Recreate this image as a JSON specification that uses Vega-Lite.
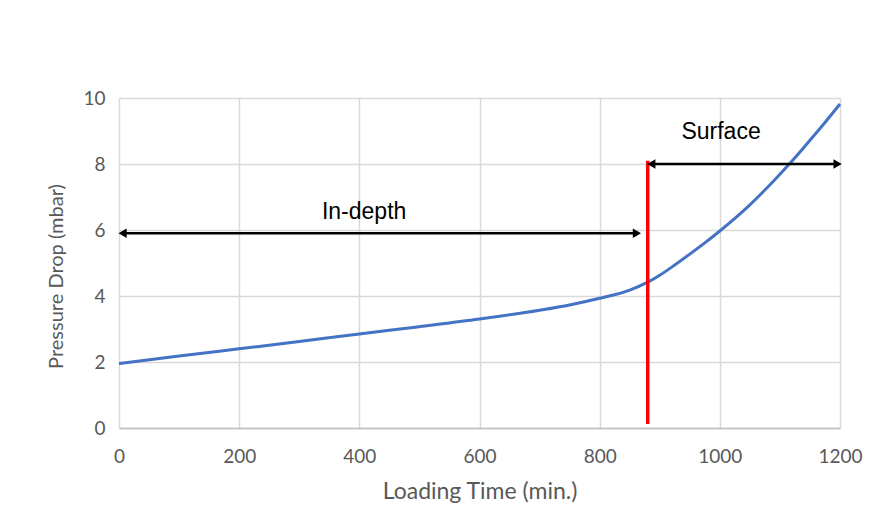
{
  "$schema": "https://vega.github.io/schema/vega-lite/v6.json",
  "width": 721,
  "height": 330,
  "autosize": "none",
  "padding": {"left": 119, "top": 98, "right": 38, "bottom": 102},
  "background": "white",
  "config": {
    "view": {"stroke": null},
    "axis": {"grid": true, "gridColor": "#d9d9d9", "gridWidth": 1.5, "ticks": false, "labelFont": "Lato", "titleFont": "Lato", "labelColor": "#595959", "titleColor": "#595959", "labelFontSize": 19, "titleFontSize": 21, "titleFontWeight": "normal", "labelFlush": false}
  },
  "datasets": {
    "curve": [
      {"t": 0, "p": 1.95}, {"t": 100, "p": 2.18}, {"t": 200, "p": 2.4}, {"t": 300, "p": 2.62},
      {"t": 400, "p": 2.85}, {"t": 500, "p": 3.07}, {"t": 600, "p": 3.3}, {"t": 700, "p": 3.57},
      {"t": 750, "p": 3.73}, {"t": 800, "p": 3.93}, {"t": 850, "p": 4.18}, {"t": 880, "p": 4.42},
      {"t": 900, "p": 4.63}, {"t": 925, "p": 4.94}, {"t": 950, "p": 5.27}, {"t": 975, "p": 5.61},
      {"t": 1000, "p": 5.97}, {"t": 1025, "p": 6.35}, {"t": 1050, "p": 6.76}, {"t": 1075, "p": 7.21},
      {"t": 1100, "p": 7.69}, {"t": 1125, "p": 8.19}, {"t": 1150, "p": 8.72}, {"t": 1175, "p": 9.26},
      {"t": 1200, "p": 9.82}
    ],
    "arrows": [
      {"name": "In-depth", "x1": 6, "x2": 862, "y": 5.9},
      {"name": "Surface", "x1": 886, "x2": 1196, "y": 8.0}
    ],
    "heads": [
      {"x": 6, "y": 5.9, "dir": "left"}, {"x": 862, "y": 5.9, "dir": "right"},
      {"x": 886, "y": 8.0, "dir": "left"}, {"x": 1196, "y": 8.0, "dir": "right"}
    ],
    "labels": [
      {"text": "In-depth", "x": 408, "y": 6.55},
      {"text": "Surface", "x": 1002, "y": 8.98}
    ],
    "divider": [{"x": 880, "y1": 0.12, "y2": 8.1}]
  },
  "layer": [
    {
      "data": {"name": "curve"},
      "mark": {"type": "line", "color": "#4472C4", "strokeWidth": 3, "interpolate": "monotone"},
      "encoding": {
        "x": {"field": "t", "type": "quantitative", "scale": {"domain": [0, 1200], "nice": false}, "axis": {"values": [0, 200, 400, 600, 800, 1000, 1200], "format": "d", "title": "Loading Time (min.)", "titleFontSize": 23, "labelPadding": 19, "titlePadding": 14, "domainColor": "#bfbfbf", "domainWidth": 1.5}},
        "y": {"field": "p", "type": "quantitative", "scale": {"domain": [0, 10], "nice": false}, "axis": {"values": [0, 2, 4, 6, 8, 10], "title": "Pressure Drop (mbar)", "titleFontSize": 20, "titleY": 178, "labelPadding": 14, "titlePadding": 16, "domain": false}}
      }
    },
    {
      "data": {"name": "divider"},
      "mark": {"type": "rule", "color": "#ff0000", "strokeWidth": 3.5},
      "encoding": {
        "x": {"field": "x", "type": "quantitative"},
        "y": {"field": "y1", "type": "quantitative"},
        "y2": {"field": "y2"}
      }
    },
    {
      "data": {"name": "arrows"},
      "mark": {"type": "rule", "color": "black", "strokeWidth": 2.5},
      "encoding": {
        "x": {"field": "x1", "type": "quantitative"},
        "x2": {"field": "x2"},
        "y": {"field": "y", "type": "quantitative"}
      }
    },
    {
      "data": {"name": "heads"},
      "mark": {"type": "point", "filled": true, "color": "black", "opacity": 1, "size": 90},
      "encoding": {
        "x": {"field": "x", "type": "quantitative"},
        "y": {"field": "y", "type": "quantitative"},
        "shape": {"field": "dir", "type": "nominal", "scale": {"domain": ["left", "right"], "range": ["triangle-left", "triangle-right"]}, "legend": null}
      }
    },
    {
      "data": {"name": "labels"},
      "mark": {"type": "text", "font": "Liberation Sans", "fontSize": 23, "color": "black"},
      "encoding": {
        "x": {"field": "x", "type": "quantitative"},
        "y": {"field": "y", "type": "quantitative"},
        "text": {"field": "text"}
      }
    }
  ]
}
